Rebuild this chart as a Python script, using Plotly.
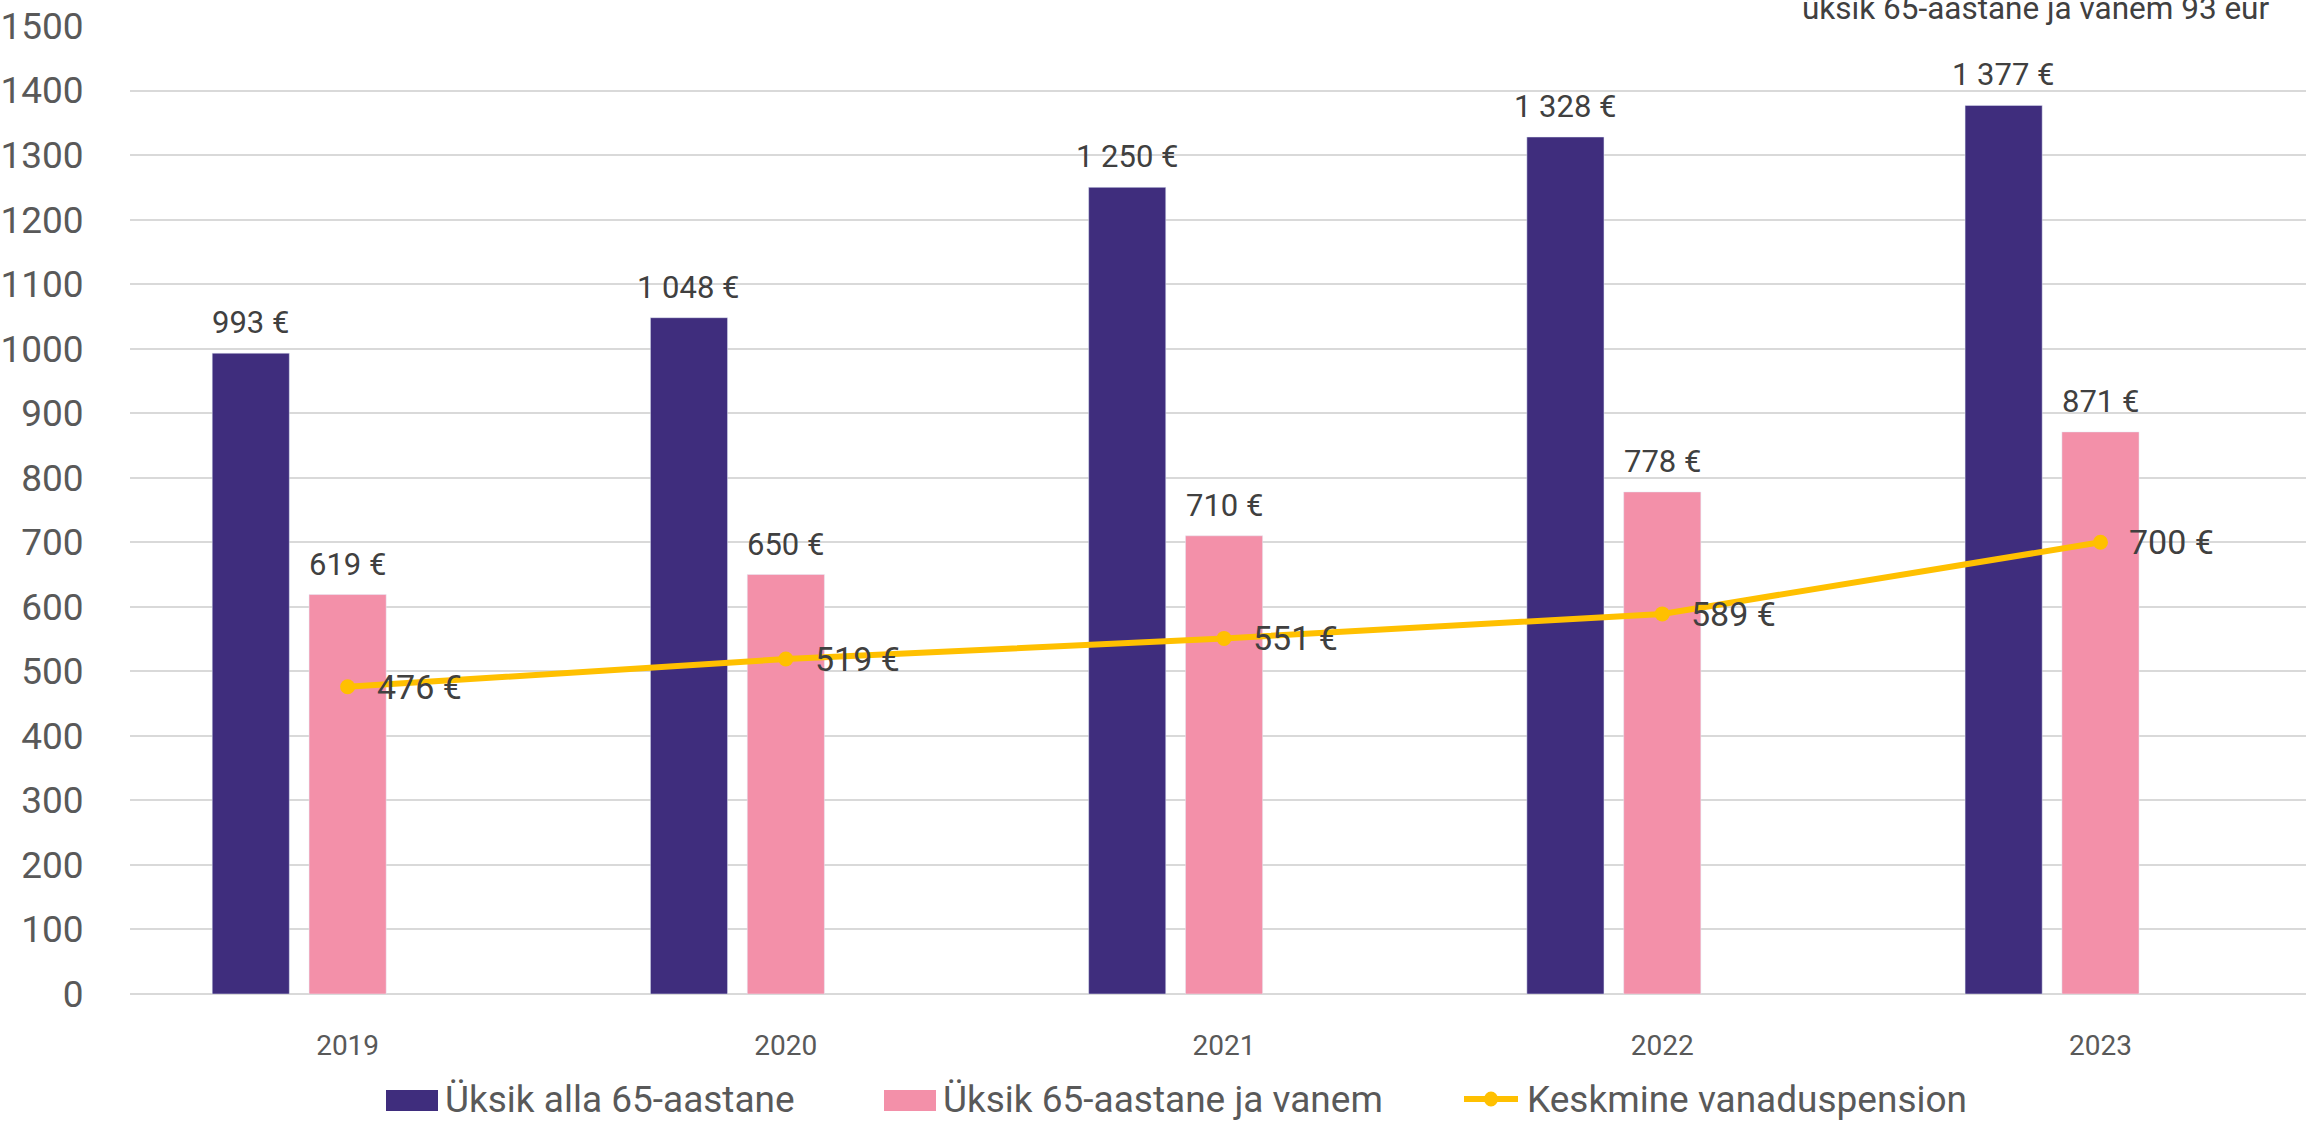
import plotly.graph_objects as go

years = ["2019", "2020", "2021", "2022", "2023"]
alla65 = [993, 1048, 1250, 1328, 1377]
vanem65 = [619, 650, 710, 778, 871]
pension = [476, 519, 551, 589, 700]
y_ticks = list(range(0, 1501, 100))

series_names = ["Üksik alla 65-aastane", "Üksik 65-aastane ja vanem", "Keskmine vanaduspension"]
top_note = "üksik 65-aastane ja vanem 93 eur"

PURPLE = "#3F2D7D"
PINK = "#F390A9"
GOLD = "#FFC000"
FONT = "Roboto"

W, H = 2306, 1121
ML, MR, MT, MB = 130, 0, 26, 127
PW = W - ML - MR
PHt = H - MT - MB

BW = 0.176
OFF_P = -0.221


def fmt(v):
    return f"{v:,}".replace(",", " ") + " €"


def px(xp):
    return (xp - ML) / PW


def py(yp):
    return (H - MB - yp) / PHt


fig = go.Figure()
fig.add_trace(go.Bar(x=years, y=alla65, name=series_names[0], marker_color=PURPLE,
                     width=BW, offset=OFF_P - BW / 2, showlegend=False))
fig.add_trace(go.Bar(x=years, y=vanem65, name=series_names[1], marker_color=PINK,
                     width=BW, offset=-BW / 2, showlegend=False))
fig.add_trace(go.Scatter(x=years, y=pension, name=series_names[2], mode="lines+markers",
                         line=dict(color=GOLD, width=6), marker=dict(color=GOLD, size=15),
                         showlegend=False))

ann = []
for i, v in enumerate(alla65):
    ann.append(dict(x=i + OFF_P, y=v, xref="x", yref="y", text=fmt(v), showarrow=False,
                    yanchor="bottom", yshift=10, font=dict(size=31, color="#404040", family=FONT)))
for i, v in enumerate(vanem65):
    ann.append(dict(x=i, y=v, xref="x", yref="y", text=fmt(v), showarrow=False,
                    yanchor="bottom", yshift=10, font=dict(size=31, color="#404040", family=FONT)))
for i, v in enumerate(pension):
    ann.append(dict(x=i, y=v, xref="x", yref="y", text=fmt(v), showarrow=False,
                    xanchor="left", xshift=27, yanchor="middle",
                    font=dict(size=34, color="#404040", family=FONT)))

ann.append(dict(x=px(2271), y=1, xref="paper", yref="paper", text=top_note, showarrow=False,
                xanchor="right", yanchor="bottom", yshift=-3,
                font=dict(size=31.5, color="#404040", family=FONT)))

# custom legend
shapes = []
leg_items = [(386, 438, 443, PURPLE, "rect"), (884, 936, 941, PINK, "rect"), (1464, 1518, 1525, GOLD, "line")]
for (x0, x1, xt, col, kind), name in zip(leg_items, series_names):
    if kind == "rect":
        shapes.append(dict(type="rect", xref="paper", yref="paper", x0=px(x0), x1=px(x1),
                           y0=py(1111), y1=py(1090), fillcolor=col, line=dict(width=0)))
    else:
        shapes.append(dict(type="line", xref="paper", yref="paper", x0=px(x0), x1=px(x1),
                           y0=py(1099), y1=py(1099), line=dict(color=col, width=6)))
        xc = (x0 + x1) / 2
        shapes.append(dict(type="circle", xref="paper", yref="paper", x0=px(xc - 7), x1=px(xc + 7),
                           y0=py(1099 + 7.5), y1=py(1099 - 7.5), fillcolor=col, line=dict(width=0)))
    ann.append(dict(x=px(xt), y=py(1099), xref="paper", yref="paper", text=name, showarrow=False,
                    xanchor="left", yanchor="middle", font=dict(size=37, color="#595959", family=FONT)))

fig.update_layout(
    width=W, height=H,
    margin=dict(l=ML, r=MR, t=MT, b=MB),
    paper_bgcolor="white", plot_bgcolor="white",
    barmode="overlay",
    annotations=ann, shapes=shapes,
    font=dict(family=FONT, color="#595959"),
)
fig.update_xaxes(type="category", range=[-0.4966, 4.469], showgrid=False, showline=False,
                 tickfont=dict(size=28, color="#595959", family=FONT),
                 ticks="outside", ticklen=26, tickcolor="rgba(0,0,0,0)")
fig.update_yaxes(range=[0, 1500], tickvals=y_ticks, showgrid=True, gridcolor="#D9D9D9", gridwidth=2,
                 zeroline=True, zerolinecolor="#D9D9D9", zerolinewidth=2, showline=False,
                 tickfont=dict(size=37, color="#595959", family=FONT),
                 ticks="outside", ticklen=38, tickcolor="rgba(0,0,0,0)")

fig.write_html("out.html", config={"displayModeBar": False},
               post_script="document.body.style.margin='0';document.body.style.overflow='hidden';")
